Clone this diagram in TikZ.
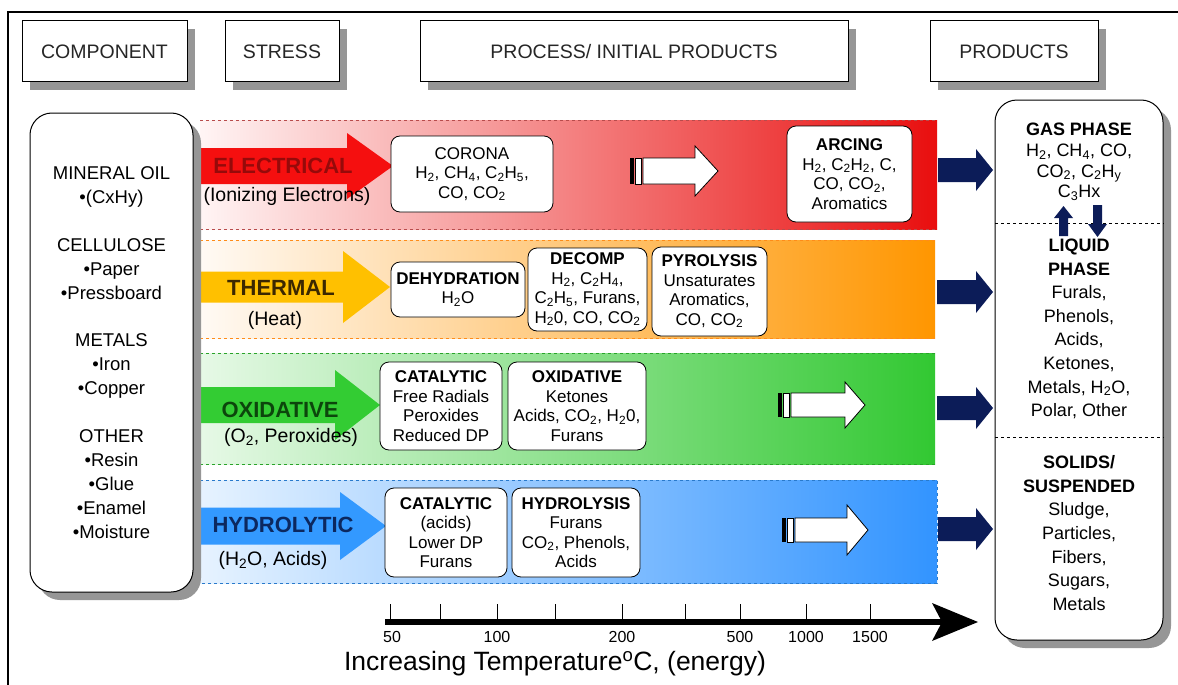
\documentclass[tikz,border=0pt]{standalone}
\usepackage{fontspec}
\setmainfont{Liberation Sans}
\usetikzlibrary{shadows,calc}
\definecolor{navy}{RGB}{12,28,88}
\definecolor{elred}{RGB}{245,15,15}
\definecolor{thgold}{RGB}{255,192,0}
\definecolor{oxgreen}{RGB}{51,204,51}
\definecolor{hyblue}{RGB}{51,153,255}
\definecolor{eltxt}{RGB}{150,10,10}
\definecolor{thtxt}{RGB}{60,40,0}
\definecolor{oxtxt}{RGB}{12,70,12}
\definecolor{hytxt}{RGB}{12,40,95}
\definecolor{shad}{RGB}{150,150,150}
\newcommand\sub[1]{\textsubscript{#1}}
% block arrow: style, x start, y centre, head start, shaft half, head half, tip
\newcommand\barrow[7]{\path[#1] (#2,#3-#5) -- (#4,#3-#5) -- (#4,#3-#6) -- (#7,#3) -- (#4,#3+#6) -- (#4,#3+#5) -- (#2,#3+#5) -- cycle;}
% striped white arrow: x0, y centre, shaft half, head half, head start, tip
\newcommand\sarrow[6]{%
  \fill[black] (#1,#2-#3) rectangle (#1+3.5,#2+#3);
  \draw[fill=white,line width=0.8pt] (#1+5.5,#2-#3) rectangle (#1+11,#2+#3);
  \barrow{draw=black,fill=white,line width=0.8pt,line join=miter}{#1+13}{#2}{#5}{#3}{#4}{#6}}
\begin{document}
\begin{tikzpicture}[x=1pt,y=-1pt,
  hdr/.style={draw, line width=1pt, fill=white, minimum height=61pt,
    font=\fontsize{19.5}{22}\selectfont, text=black!85,
    drop shadow={shadow xshift=8pt, shadow yshift=-8pt, fill=shad, opacity=1}},
  bigbox/.style={draw, line width=1pt, fill=white, rounded corners=22pt, align=center,
    drop shadow={shadow xshift=8pt, shadow yshift=-8pt, fill=shad, opacity=1}},
  pbox/.style={draw, line width=0.8pt, fill=white, rounded corners=9pt, align=center,
    inner sep=1pt, font=\fontsize{17}{19.5}\selectfont},
  stitle/.style={font=\bfseries\fontsize{22}{24}\selectfont},
  ssub/.style={font=\fontsize{19.5}{22}\selectfont},
  ptxt/.style={align=center, font=\fontsize{18}{23.6}\selectfont},
  band/.style={dashed, line width=0.8pt},
]
\useasboundingbox (0,0) rectangle (1178,685);
\fill[white] (0,0) rectangle (1178,685);
\draw[line width=1.2pt] (8,685) -- (8,12) -- (1178,12);

% header boxes
\node[hdr, minimum width=165pt] (hcomp) at (104.5,51.5) {COMPONENT};
\node[hdr, minimum width=114pt] (hstress) at (282,51.5) {STRESS};
\node[hdr, minimum width=428pt] (hproc) at (634,51.5) {PROCESS/ INITIAL PRODUCTS};
\node[hdr, minimum width=168pt] (hprod) at (1014,51.5) {PRODUCTS};

% bands
\shade[left color=red!4, right color=elred!95!black] (200,120) rectangle (937,229);
\draw[band, red!60!black!70] (200,120) -- (937,120) (200,229) -- (937,229);
\shade[left color=orange!4, right color={rgb,255:red,255;green,150;blue,0}] (200,240) rectangle (935,338);
\draw[band, orange!90] (200,240) -- (935,240) (200,338) -- (935,338);
\shade[left color=oxgreen!12, right color={rgb,255:red,50;green,200;blue,50}] (200,353) rectangle (935,464);
\draw[band, oxgreen!80!black] (200,353) -- (935,353) (200,464) -- (935,464);
\shade[left color=hyblue!12, right color={rgb,255:red,50;green,148;blue,255}] (200,480) rectangle (937,583);
\draw[band, hyblue!80!black] (200,480) -- (937,480) -- (937,583) -- (200,583);

% stress arrows
\barrow{fill=elred}{185}{166}{347}{18}{33}{393}
\barrow{fill=thgold}{185}{287}{343}{15.5}{36}{390}
\barrow{fill=oxgreen}{185}{405}{335}{18}{35}{380}
\barrow{fill=hyblue}{185}{526}{340}{18.5}{34}{386}

% component box
\node[bigbox, minimum width=163pt, minimum height=479pt,
  font=\fontsize{18.5}{23.9}\selectfont] (comp) at (111.5,352.5)
  {MINERAL OIL\\•(CxHy)\\ \\CELLULOSE\\•Paper\\•Pressboard\\ \\METALS\\•Iron\\•Copper\\ \\OTHER\\•Resin\\•Glue\\•Enamel\\•Moisture};

% stress labels
\node[stitle, text=eltxt] (tel) at (283,166) {ELECTRICAL};
\node[ssub] (sel) at (287,196) {(Ionizing Electrons)};
\node[stitle, text=thtxt] (tth) at (281,288) {THERMAL};
\node[ssub] (sth) at (275,320) {(Heat)};
\node[stitle, text=oxtxt] (tox) at (280,410) {OXIDATIVE};
\node[ssub] (sox) at (291,437) {(O\sub{2}, Peroxides)};
\node[stitle, text=hytxt] (thy) at (283,525) {HYDROLYTIC};
\node[ssub] (shy) at (273,560) {(H\sub{2}O, Acids)};

% process boxes
\node[pbox, minimum width=162pt, minimum height=76pt] (corona) at (472,174)
  {CORONA\\H\sub{2}, CH\sub{4}, C\sub{2}H\sub{5},\\CO, CO\sub{2}};
\node[pbox, minimum width=125pt, minimum height=96pt] (arcing) at (849.5,174)
  {\textbf{ARCING}\\H\sub{2}, C\sub{2}H\sub{2}, C,\\CO, CO\sub{2},\\Aromatics};
\node[pbox, minimum width=134pt, minimum height=55pt] (dehyd) at (458,289.5)
  {\textbf{DEHYDRATION}\\H\sub{2}O};
\node[pbox, minimum width=119pt, minimum height=83pt] (decomp) at (587.5,289.5)
  {\textbf{DECOMP}\\H\sub{2}, C\sub{2}H\sub{4},\\C\sub{2}H\sub{5}, Furans,\\H\sub{2}0, CO, CO\sub{2}};
\node[pbox, minimum width=115pt, minimum height=89pt] (pyro) at (709.5,291.5)
  {\textbf{PYROLYSIS}\\Unsaturates\\Aromatics,\\CO, CO\sub{2}};
\node[pbox, minimum width=122pt, minimum height=88pt] (catox) at (441,406)
  {\textbf{CATALYTIC}\\Free Radials\\Peroxides\\Reduced DP};
\node[pbox, minimum width=138pt, minimum height=88pt] (oxid) at (577,406)
  {\textbf{OXIDATIVE}\\Ketones\\Acids, CO\sub{2}, H\sub{2}0,\\Furans};
\node[pbox, minimum width=122pt, minimum height=89pt] (cathy) at (446,532.5)
  {\textbf{CATALYTIC}\\(acids)\\Lower DP\\Furans};
\node[pbox, minimum width=128pt, minimum height=89pt] (hydro) at (576,532.5)
  {\textbf{HYDROLYSIS}\\Furans\\CO\sub{2}, Phenols,\\Acids};

% striped white arrows
\sarrow{630}{171}{13}{25}{695}{718}
\sarrow{778}{405}{12}{23}{845}{865}
\sarrow{782}{530}{12}{25}{847}{868}

% products box
\node[bigbox, minimum width=168pt, minimum height=540pt] (prod) at (1079,370) {};
\coordinate (d1) at (995,223);
\coordinate (d2) at (995,437);
\draw[dashed, line width=1pt] (d1) -- (d1 -| prod.east);
\draw[dashed, line width=1pt] (d2) -- (d2 -| prod.east);
\node[align=center, font=\fontsize{18}{20.7}\selectfont] (gas) at (1079,162)
  {\textbf{GAS PHASE}\\H\sub{2}, CH\sub{4}, CO,\\CO\sub{2}, C\sub{2}H\sub{y}\\C\sub{3}Hx};
\node[ptxt] (liq) at (1079,329)
  {\textbf{LIQUID}\\\textbf{PHASE}\\Furals,\\Phenols,\\Acids,\\Ketones,\\Metals, H\sub{2}O,\\Polar, Other};
\node[ptxt] (sol) at (1079,533)
  {\textbf{SOLIDS/}\\\textbf{SUSPENDED}\\Sludge,\\Particles,\\Fibers,\\Sugars,\\Metals};
% up/down arrows between phases
\path[fill=navy] (1059,236) -- (1059,218) -- (1054,218) -- (1063.5,206) -- (1073,218) -- (1068,218) -- (1068,236) -- cycle;
\path[fill=navy] (1093,205) -- (1093,224) -- (1088,224) -- (1097.5,237) -- (1107,224) -- (1102,224) -- (1102,205) -- cycle;

% navy arrows to products
\barrow{fill=navy}{938}{170}{976}{12}{21}{993}
\barrow{fill=navy}{937}{292}{976}{12}{21}{993}
\barrow{fill=navy}{937}{408}{976}{12}{21}{993}
\barrow{fill=navy}{938}{529}{976}{12}{21}{993}

% temperature axis
\coordinate (ax0) at (385,622);
\coordinate (ax1) at (945,622);
\draw[line width=5.5pt] (ax0) -- (ax1);
\fill (932,603) -- (978,622) -- (932,641) -- (942,622) -- cycle;
\foreach \x in {390,440,497,555,622,685,740,806,870}
  \draw[line width=0.8pt] (\x,604) -- (\x,622);
\foreach \x/\t in {392/50,497/100,622/200,740/500,806/1000,870/1500}
  \node[font=\fontsize{16}{18}\selectfont] at (\x,637) {\t};
\node[font=\fontsize{26.5}{29}\selectfont] (axlab) at (555,664) {Increasing Temperature\textsuperscript{o}C, (energy)};
\end{tikzpicture}
\end{document}
